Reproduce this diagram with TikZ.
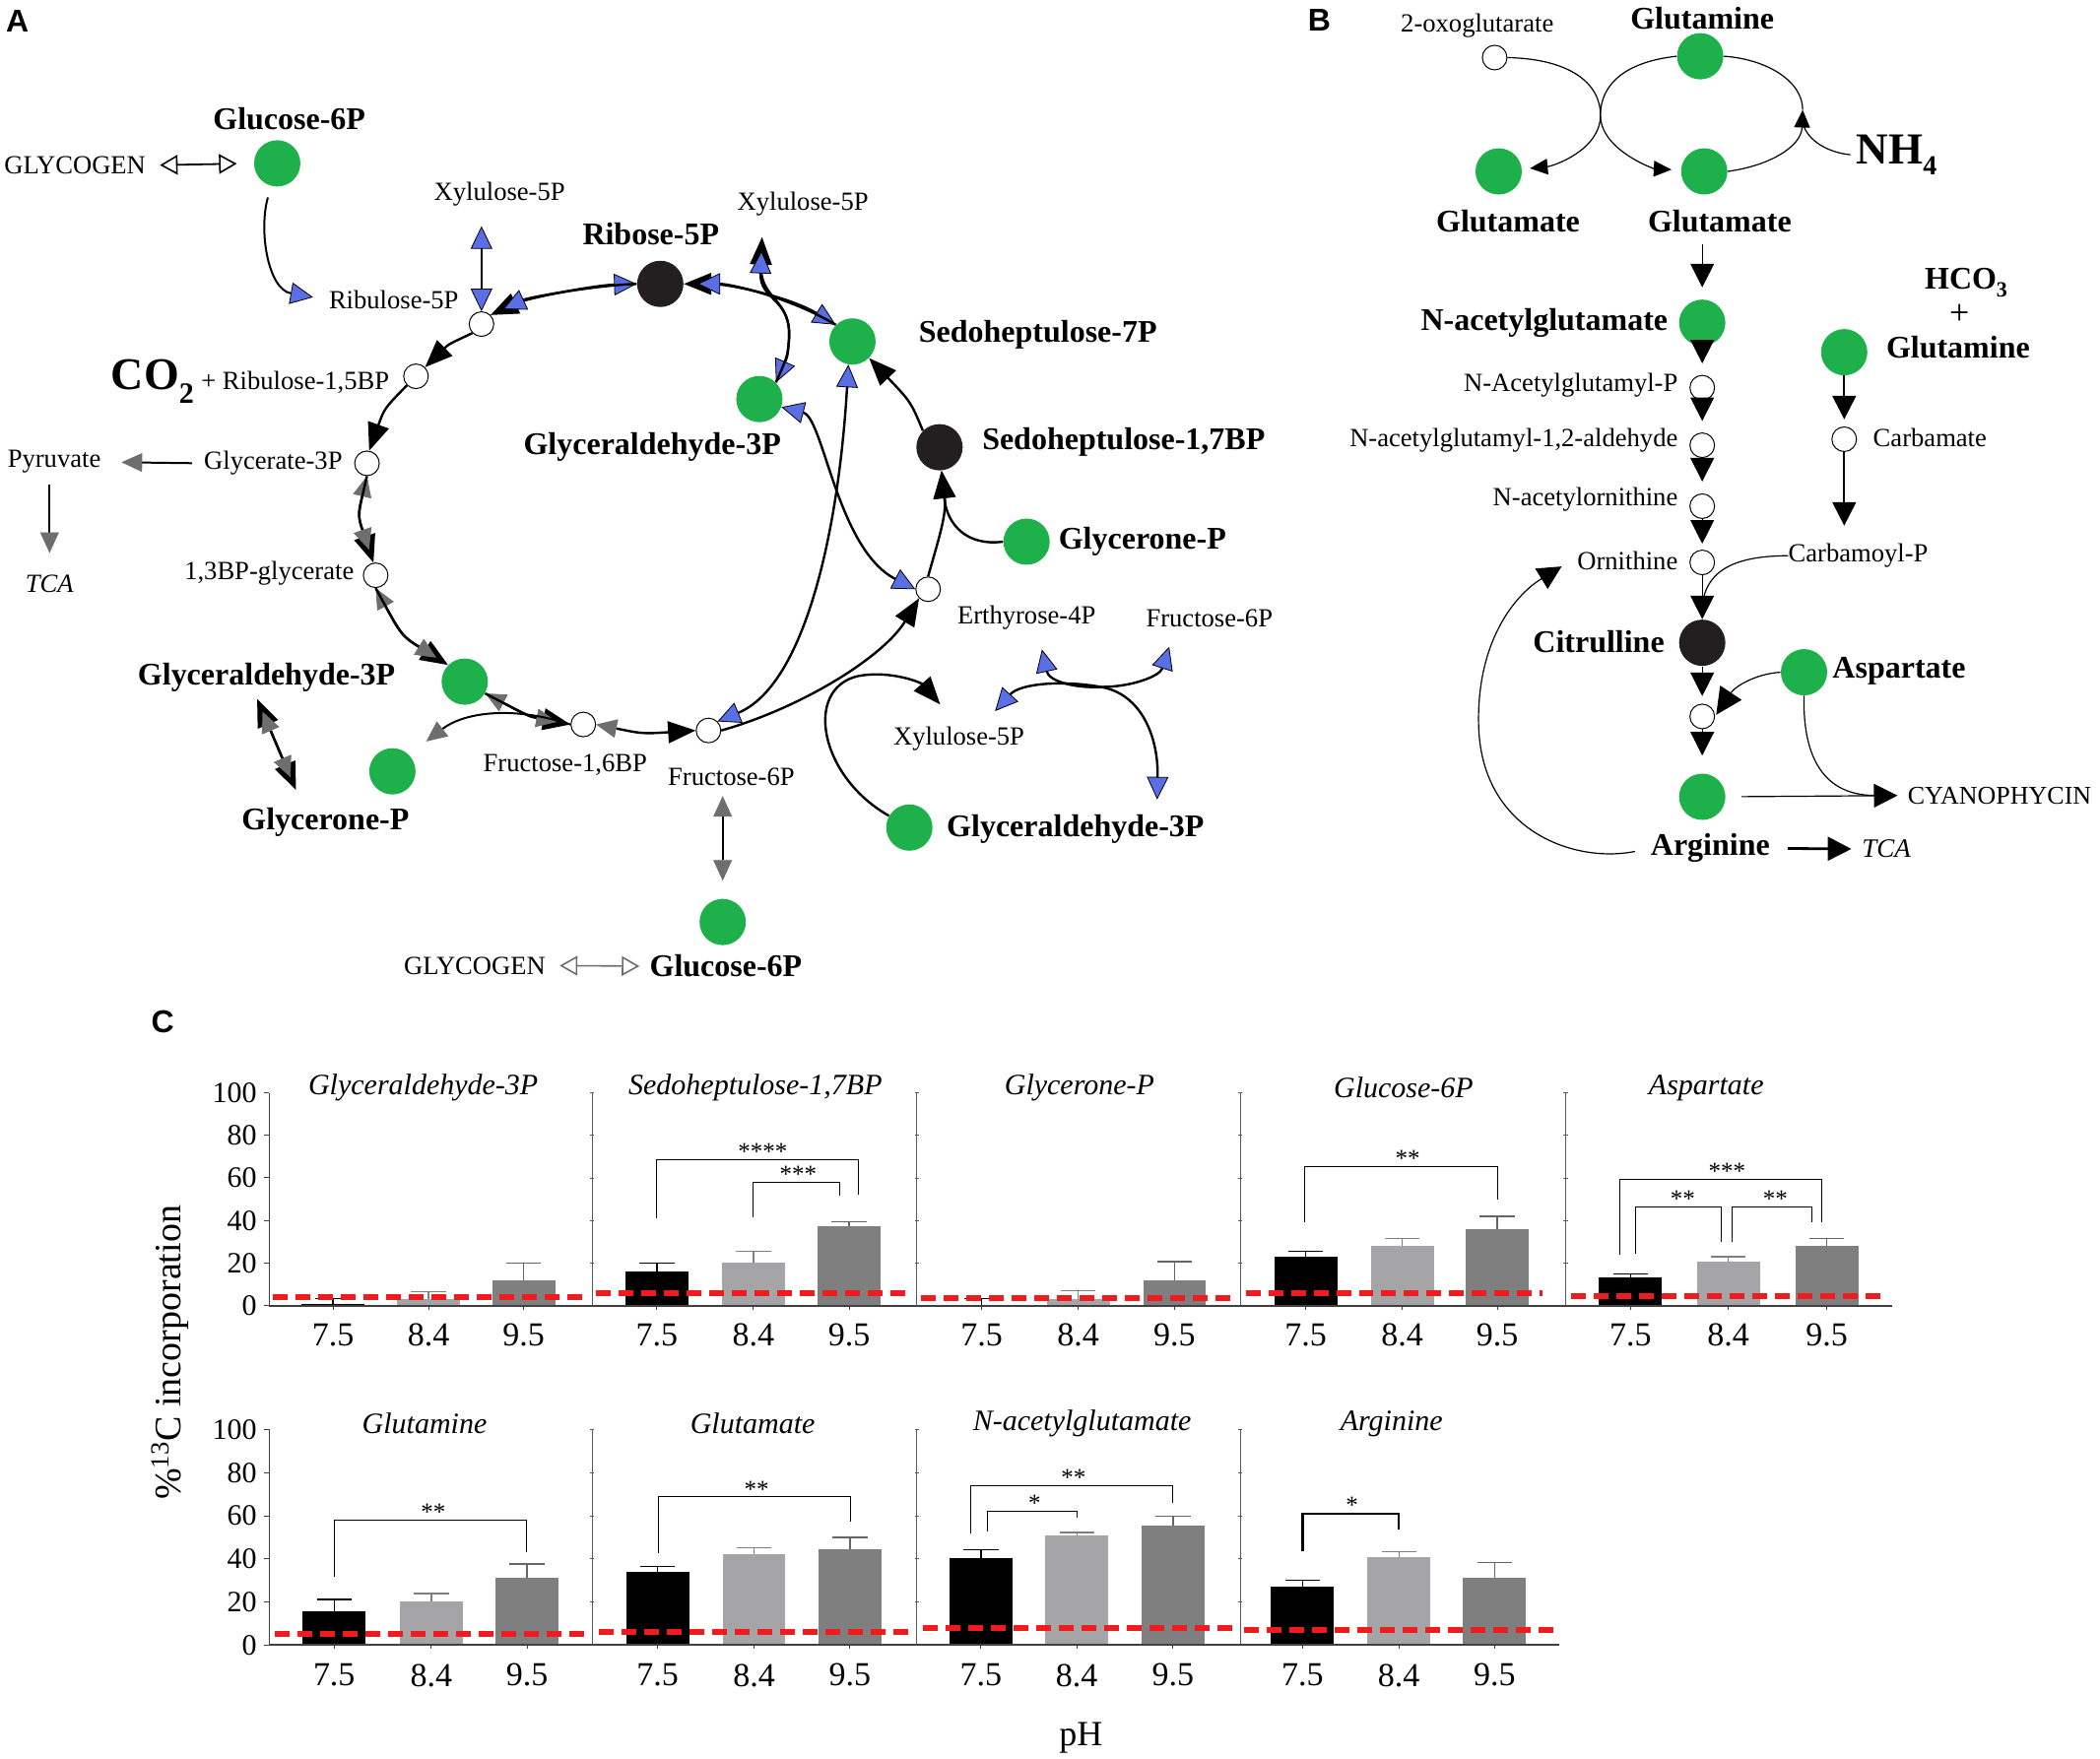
\documentclass[tikz,border=0pt]{standalone}
\usepackage{fontspec}
\setmainfont{Liberation Serif}
\setsansfont{Liberation Sans}
\usetikzlibrary{arrows.meta}
\definecolor{fgreen}{HTML}{1DB04B}
\definecolor{fblk}{HTML}{231F20}
\definecolor{tipblue}{HTML}{5A6FE6}
\definecolor{tipgray}{HTML}{6E6E6E}
\definecolor{barlt}{HTML}{A5A5A8}
\definecolor{bardk}{HTML}{7F7F7F}
\definecolor{fred}{HTML}{EE1C1C}
\newcommand\fsz[1]{\fontsize{#1}{#1}\selectfont}
\newcommand\yv[1]{\yb-\ys*(#1)}
\newcommand\cbar[5]{%
  \fill[#4] ({#1-23.5},\yb) rectangle ({#1+23.5},{\yv{#2}});
  \draw[#5,line width=0.7pt] (#1,{\yv{#2}}) -- (#1,{\yv{#3}}) ({#1-13},{\yv{#3}}) -- ({#1+13},{\yv{#3}});
}
\newcommand\brk[9]{%
  \draw[line width=#8] (#1,{\yv{#4}}) -- (#1,{\yv{#3}}) -- (#2,{\yv{#3}}) -- (#2,{\yv{#5}});
  \node[font=\fsz{12.5},inner sep=0] (#9) at (#7,{\yv{#3}-6}) {#6};
}
\newcommand\redline[3]{%
  \draw[fred,line width=3pt,dash pattern=on 7.5pt off 4pt] (#1,{\yv{#3}}) -- (#2,{\yv{#3}});
}
\tikzset{
  KT/.tip={Triangle[length=14pt,width=11pt]},
  BT/.tip={Triangle[length=11.5pt,width=11pt,fill=tipblue,line width=0.4pt]},
  GT/.tip={Triangle[length=10.5pt,width=9.5pt,color=tipgray,line width=0.4pt]},
  OT/.tip={Triangle[open,length=9pt,width=10pt,line width=0.8pt]},
  KTs/.tip={Triangle[length=9pt,width=8pt]},
  KTb/.tip={Triangle[length=12pt,width=12pt]},
  KTc/.tip={Triangle[length=13.5pt,width=13pt]},
  gc/.style={circle,fill=fgreen,minimum size=23.5pt,inner sep=0pt},
  bc/.style={circle,fill=fblk,minimum size=23.5pt,inner sep=0pt},
  wc/.style={circle,draw=black,fill=white,line width=0.5pt,minimum size=12.5pt,inner sep=0pt},
  lab/.style={inner sep=0pt,font=\fsz{13.3}},
  blab/.style={inner sep=0pt,font=\fsz{16}\bfseries},
  plab/.style={inner sep=0pt,font=\sffamily\bfseries\fsz{16}},
  cyc/.style={line width=1.2pt},
  thinl/.style={line width=0.6pt},
  ttl/.style={inner sep=0pt,font=\fsz{15}\itshape},
  ytl/.style={inner sep=0pt,font=\fsz{15},anchor=east},
  xtl/.style={inner sep=0pt,font=\fsz{17}},
}
\begin{document}
\begin{tikzpicture}[x=0.68pt,y=-0.68pt]
\useasboundingbox (0,0) rectangle (1568,1313.5);
% ================= Panel A =================
\node[plab] (labA) at (13,16) {A};
\node[gc] (g6pt) at (207,122) {};
\node[blab] (g6ptl) at (216,88.5) {Glucose-6P};
\node[lab] (glyc1) at (56,123.5) {GLYCOGEN};
\node[lab] (ru5pl) at (294,224) {Ribulose-5P};
\node[lab] (xu5pl) at (373,145) {Xylulose-5P};
\node[wc] (ru5p) at (359.5,242) {};
\node[bc] (rib) at (493,212) {};
\node[blab] (ribl) at (486,175) {Ribose-5P};
\node[inner sep=0pt,font=\bfseries\fsz{23},anchor=base west] (co2) at (82.7,290.7) {CO\raisebox{-7pt}{\fsz{15}2}};
\node[lab,anchor=base west] (rubpl) at (150,290.7) {+ Ribulose-1,5BP};
\node[wc] (rubp) at (310.6,281) {};
\node[lab] (gly3pl) at (204,346) {Glycerate-3P};
\node[wc] (gly3p) at (274,346) {};
\node[lab] (pyr) at (40.5,345) {Pyruvate};
\node[lab,font=\fsz{13.3}\itshape] (tcaa) at (37,436) {TCA};
\node[lab] (bpgl) at (201,428) {1,3BP-glycerate};
\node[wc] (bpg) at (280.5,429.6) {};
\node[gc] (gapc) at (347,509) {};
\node[blab] (gapll) at (199,506) {Glyceraldehyde-3P};
\node[gc] (dhapl) at (293,576) {};
\node[blab] (dhapll) at (243,614) {Glycerone-P};
\node[wc] (fbp) at (435.5,541) {};
\node[lab] (fbpl) at (422,571.5) {Fructose-1,6BP};
\node[wc] (f6p) at (529,545.5) {};
\node[lab] (f6pl) at (546,580.5) {Fructose-6P};
\node[gc] (g6pb) at (539.6,688.5) {};
\node[blab] (g6pbl) at (542,721.5) {Glucose-6P};
\node[lab] (glyc2) at (354.5,721) {GLYCOGEN};
\node[gc] (s7p) at (636.5,255) {};
\node[blab] (s7pl) at (775,250) {Sedoheptulose-7P};
\node[lab] (xu5pt) at (599.5,152.5) {Xylulose-5P};
\node[gc] (gapt) at (567,298) {};
\node[blab] (gaptl) at (487,334) {Glyceraldehyde-3P};
\node[bc] (s17) at (701.5,334) {};
\node[blab] (s17l) at (839,330) {Sedoheptulose-1,7BP};
\node[gc] (dhapr) at (766.5,404.5) {};
\node[blab] (dhaprl) at (853,404.5) {Glycerone-P};
\node[wc] (e4pc) at (693,440) {};
\node[lab] (e4pl) at (766.5,461) {Erthyrose-4P};
\node[lab] (f6pr) at (903,462) {Fructose-6P};
\node[lab] (xu5pb) at (716,551.5) {Xylulose-5P};
\node[gc] (gapb) at (679,618) {};
\node[blab] (gapbl) at (803,619) {Glyceraldehyde-3P};
\coordinate (xu5tip) at (569,177);
\coordinate (xu5btip) at (702,526);
\coordinate (xj) at (822,513);
\coordinate (e4tip) at (778,485);
\coordinate (f6tip) at (873,483);
\coordinate (xbtip) at (743,531);
\coordinate (gbtip) at (864,597);
\coordinate (dla) at (192,522);
\coordinate (dlb) at (221,590);
% A connectors
\draw[line width=0.9pt,{OT}-{OT},shorten <=7pt,shorten >=8.6pt] (glyc1.east) -- (g6pt.west);
\draw[line width=1pt,-{BT},shorten <=6pt,shorten >=8pt] (g6pt.255) .. controls (193,172) and (200,216) .. (ru5pl.west);
\draw[line width=1pt,{BT}-{BT},shorten >=10pt] (ru5p.north) -- (ru5p.north |- xu5pl.south);
\draw[cyc,{BT}-{KT}] (rib.west) .. controls (445,213) and (395,222) .. (ru5p.north east);
\draw[cyc,-{BT},shorten >=7pt] (rib.west) .. controls (445,213) and (395,222) .. (ru5p.north east);
\draw[cyc,-{KT}] (ru5p.south west) .. controls (335,257) .. (rubp.north east);
\draw[cyc,-{KT}] (rubp.south west) .. controls (287,305) .. (gly3p.80);
\draw[cyc,{GT}-{KT}] (gly3p.south) .. controls (267,385) .. (bpg.100);
\draw[cyc,-{GT},shorten >=7pt] (gly3p.south) .. controls (267,385) .. (bpg.100);
\draw[cyc,{GT}-{KT}] (bpg.south) .. controls (300,475) .. (gapc.north west);
\draw[cyc,-{GT},shorten >=7pt] (bpg.south) .. controls (300,475) .. (gapc.north west);
\draw[cyc,{GT}-{KT}] (gapc.-30) .. controls (395,535) .. (fbp.west);
\draw[cyc,-{GT},shorten >=7pt] (gapc.-30) .. controls (395,535) .. (fbp.west);
\draw[cyc,{GT}-{KT}] (fbp.east) .. controls (480,548) .. (f6p.west);
\draw[line width=1pt,-{GT},shorten >=11pt] (fbp.west) .. controls (380,526) and (345,533) .. (dhapl.north east);
\draw[cyc,-{KT}] (f6p.east) .. controls (600,528) and (660,490) .. (e4pc.south west);
\draw[cyc,-{KT}] (e4pc.north) .. controls (700,405) and (707,385) .. (s17.-85);
\draw[cyc,-{KT}] (dhapr.west) .. controls (722,408) and (707,392) .. (s17.-85);
\draw[cyc,-{KT}] (s17.north west) .. controls (680,300) .. (s7p.south east);
\draw[cyc,{BT}-{KT}] (s7p.north west) .. controls (590,222) and (545,212) .. (rib.east);
\draw[cyc,-{BT},shorten >=7pt] (s7p.north west) .. controls (590,222) and (545,212) .. (rib.east);
\draw[cyc,{BT}-{BT}] (f6p.north east) .. controls (600,512) and (626,400) .. (s7p.-100);
\draw[cyc,{BT}-{BT}] (gapt.-20) .. controls (615,312) and (625,410) .. (e4pc.west);
\draw[cyc,{KT}-{BT}] (xu5tip) .. controls (567,225) and (592,222) .. (589,255) .. controls (588,266) .. (gapt.north east);
\draw[cyc,{BT}-,shorten <=7pt] (xu5tip) .. controls (567,225) and (592,222) .. (589,255) .. controls (588,266) .. (gapt.north east);
\draw[cyc,-{KT}] (gapb.150) .. controls (612,580) and (600,515) .. (640,505) .. controls (665,500) and (688,510) .. (xu5btip);
\draw[cyc,{BT}-{BT}] (e4tip) .. controls (783,508) and (800,514) .. (xj) .. controls (845,513) and (866,505) .. (f6tip);
\draw[cyc,{BT}-{BT}] (xbtip) .. controls (762,510) and (795,508) .. (xj) .. controls (852,518) and (865,550) .. (gbtip);
\draw[cyc,{KT}-{KT}] (dla) -- (dlb);
\draw[cyc,{GT}-{GT},shorten <=7pt,shorten >=7pt] (dla) -- (dlb);
\draw[line width=1pt,-{GT},shorten <=6pt,shorten >=10.3pt] (gly3pl.west) -- (pyr.east);
\draw[line width=1pt,-{GT},shorten <=5.5pt,shorten >=11pt] (pyr.south -| tcaa.north) -- (tcaa.north);
\draw[line width=1pt,{GT}-{GT},shorten <=4.8pt,shorten >=9pt] (f6pl.south -| g6pb.north) -- (g6pb.north);
\draw[tipgray,line width=0.8pt,{OT}-{OT},shorten <=7pt,shorten >=5pt] (glyc2.east) -- (g6pbl.west);
% ================= Panel B =================
\node[plab] (labB) at (985,15) {B};
\node[lab] (oxol) at (1103,19) {2-oxoglutarate};
\node[wc] (oxo) at (1116,43) {};
\node[blab] (glntl) at (1271,13.5) {Glutamine};
\node[gc] (glnt) at (1269.5,42) {};
\node[gc] (glul) at (1119,128) {};
\node[gc] (glur) at (1272.5,128) {};
\node[blab] (glull) at (1126,165) {Glutamate};
\node[blab] (glurl) at (1284,165) {Glutamate};
\node[inner sep=0pt,font=\bfseries\fsz{22.5},anchor=west] (nh4) at (1386,116) {NH\raisebox{-5.5pt}{\fsz{14}4}};
\node[gc] (nag) at (1271,241) {};
\node[blab,anchor=east] (nagl) at (1245.5,241) {N-acetylglutamate};
\node[wc] (nagp) at (1271,289.5) {};
\node[lab,anchor=east] (nagpl) at (1253,288) {N-Acetylglutamyl-P};
\node[wc] (ald) at (1271,332.5) {};
\node[lab,anchor=east] (aldl) at (1253,329) {N-acetylglutamyl-1,2-aldehyde};
\node[wc] (nao) at (1271,378) {};
\node[lab,anchor=east] (naol) at (1253,373) {N-acetylornithine};
\node[wc] (orn) at (1271,420) {};
\node[lab,anchor=east] (ornl) at (1253,419) {Ornithine};
\node[bc] (cit) at (1271,480) {};
\node[blab,anchor=east] (citl) at (1243,479) {Citrulline};
\node[wc] (wcx) at (1271,535) {};
\node[gc] (arg) at (1271,595) {};
\node[blab] (argl) at (1277,633.5) {Arginine};
\node[gc] (asp) at (1347,502) {};
\node[blab,anchor=west] (aspl) at (1368,501) {Aspartate};
\node[gc] (gln2) at (1377,263) {};
\node[blab] (hco3) at (1468,211) {HCO\raisebox{-4pt}{\fsz{11}3}};
\node[inner sep=0pt,font=\fsz{18}] (plus) at (1463,235) {+};
\node[blab] (gln2l) at (1462,259) {Glutamine};
\node[wc] (carb) at (1377,328) {};
\node[lab] (carbl) at (1441,327) {Carbamate};
\node[lab] (carbpl) at (1387.5,415) {Carbamoyl-P};
\node[lab,font=\fsz{13}] (cyano) at (1493,594) {CYANOPHYCIN};
\node[lab,font=\fsz{13.5}\itshape] (tcab) at (1408.5,634) {TCA};
\coordinate (nhj) at (1346,82);
\coordinate (cpj) at (1271,455);
\coordinate (cyj) at (1400,594);
\coordinate (orntip) at (1166,423);
% B connectors
\draw[thinl,-{KTs},shorten >=4pt] (oxo.east) .. controls (1172,44) and (1195,62) .. (1195,86) .. controls (1195,112) and (1160,124) .. (glul);
\draw[thinl,-{KTs},shorten >=4.7pt] (glnt.west) .. controls (1215,46) and (1195,62) .. (1195,86) .. controls (1195,112) and (1235,126) .. (glur);
\draw[thinl,-{KTs}] (glur.east) .. controls (1320,124) and (1345,110) .. (nhj);
\draw[thinl] (nhj) .. controls (1346,60) and (1318,44) .. (glnt.east);
\draw[thinl,shorten <=3pt] (nh4.west) .. controls (1366,114) and (1350,106) .. (1346,92);
\draw[thinl,-{KTb},shorten <=6pt,shorten >=6pt] (glurl.south -| nag) -- (nag);
\draw[thinl,-{KTb},shorten >=5.8pt] (nag.south) -- (nagp);
\draw[thinl,-{KTb},shorten >=5.8pt] (nagp.south) -- (ald);
\draw[thinl,-{KTb},shorten >=6pt] (ald.south) -- (nao);
\draw[thinl,-{KTb},shorten >=3pt] (nao.south) -- (orn);
\draw[thinl,-{KTb}] (orn.south) -- (cit.north);
\draw[thinl,-{KTb},shorten >=3.8pt] (cit.south) -- (wcx);
\draw[thinl,-{KTb},shorten >=9pt] (wcx.south) -- (arg);
\draw[thinl] (carbpl.west) .. controls (1292,415) and (1272,428) .. (cpj);
\draw[thinl,-{KTc},shorten >=1pt] (asp.west) .. controls (1312,503) and (1296,512) .. (wcx.east);
\draw[thinl] (asp.south) .. controls (1346,560) and (1358,594) .. (cyj);
\draw[thinl,-{KTb},shorten <=8pt,shorten >=5pt] (arg.east) -- (cyano.west);
\draw[line width=1.4pt,-{KTb},shorten <=9pt,shorten >=5.2pt] (argl.east) -- (tcab.west);
\draw[thinl,-{KTb},shorten <=8pt] (argl.west) .. controls (1175,645) and (1105,620) .. (1104,540) .. controls (1103,480) and (1130,445) .. (orntip);
\draw[line width=1pt,-{KTb},shorten >=3.6pt] (gln2.south) -- (carb);
\draw[line width=1pt,-{KTb},shorten >=9pt] (carb.south) -- (carb.south |- carbpl.north);
% ================= Panel C =================
\node[plab] (labC) at (121.5,763) {C};
\node[rotate=90,inner sep=0pt,font=\fsz{19}] (ylab) at (127,1010) {\%\textsuperscript{13}C incorporation};
\node[inner sep=0pt,font=\fsz{18}] (phl) at (807,1298) {pH};
% ---- top row
\def\yb{975}\def\ys{1.59}
\cbar{248.6}{1}{3.3}{black}{black}
\cbar{320}{3}{6.7}{barlt}{bardk}
\cbar{391}{12}{20}{bardk}{bardk!80!black}
\cbar{490.5}{16}{20}{black}{black}
\cbar{562.5}{20}{25.5}{barlt}{bardk}
\cbar{634}{37.5}{39.5}{bardk}{bardk!80!black}
\cbar{733}{0.5}{3.3}{black}{black}
\cbar{805}{3}{7}{barlt}{bardk}
\cbar{877}{12}{20.6}{bardk}{bardk!80!black}
\cbar{975}{23}{25.4}{black}{black}
\cbar{1047}{28}{31.5}{barlt}{bardk}
\cbar{1118}{36}{42}{bardk}{bardk!80!black}
\cbar{1217.5}{13.4}{15}{black}{black}
\cbar{1290.5}{20.8}{23}{barlt}{bardk}
\cbar{1364}{28}{31.5}{bardk}{bardk!80!black}
\draw[black!75,line width=0.9pt] (201,\yb) -- (1413,\yb);
\draw[black!75,line width=0.5pt] (201,\yb) -- (201,{\yv{100}});
\foreach \v in {0,20,...,100} {
  \draw[black!75,line width=0.5pt] (197,{\yv{\v}}) -- (201,{\yv{\v}});
  \node[ytl] (yta\v) at (192,{\yv{\v}}) {\v};
}
\foreach \s in {442,684.5,926,1169} {
  \draw[black!65,line width=0.45pt] (\s,\yb) -- (\s,{\yv{100}});
  \foreach \v in {20,40,...,100} \draw[black!65,line width=0.45pt] ({\s-1.5},{\yv{\v}}) -- ({\s+1.5},{\yv{\v}});
}
\foreach \x/\t [count=\i] in {248.6/7.5,320/8.4,391/9.5,490.5/7.5,562.5/8.4,634/9.5,733/7.5,805/8.4,877/9.5,975/7.5,1047/8.4,1118/9.5,1217.5/7.5,1290.5/8.4,1364/9.5} {
  \draw[black!75,line width=0.5pt] (\x,\yb) -- (\x,{\yb+3});
  \node[xtl] (xta\i) at (\x,997) {\t};
}
\redline{204}{437}{4.2}
\redline{445}{680}{6}
\redline{688}{922}{3.4}
\redline{930}{1152}{6}
\redline{1173}{1405}{4.6}
\node[ttl] (t1) at (316,812.5) {Glyceraldehyde-3P};
\node[ttl] (t2) at (564,812.5) {Sedoheptulose-1,7BP};
\node[ttl] (t3) at (806,812.5) {Glycerone-P};
\node[ttl] (t4) at (1048,812.5) {Glucose-6P};
\node[ttl] (t5) at (1274,812.5) {Aspartate};
\brk{490}{641}{68.5}{41}{52}{****}{569.5}{0.5pt}{s1}
\brk{562}{627}{58}{41.5}{51.5}{***}{596}{0.5pt}{s2}
\brk{974}{1118}{65.4}{39}{50}{**}{1051}{0.5pt}{s3}
\brk{1209.5}{1360.5}{59.4}{24}{39}{***}{1289.5}{0.5pt}{s4}
\brk{1221}{1285}{46.5}{24.6}{29.7}{**}{1256.5}{0.5pt}{s5}
\brk{1293}{1353}{46.5}{29.7}{39}{**}{1325.5}{0.5pt}{s6}
% ---- bottom row
\def\yb{1228.5}\def\ys{1.61}
\cbar{249.5}{15.5}{21.2}{black}{black}
\cbar{322}{20.2}{23.9}{barlt}{bardk}
\cbar{393.5}{31.3}{37.7}{bardk}{bardk!80!black}
\cbar{491}{34.1}{36.4}{black}{black}
\cbar{563}{42.2}{45.3}{barlt}{bardk}
\cbar{634.6}{44.7}{50}{bardk}{bardk!80!black}
\cbar{732.4}{40.3}{44.2}{black}{black}
\cbar{804}{50.9}{52.2}{barlt}{bardk}
\cbar{875.8}{55.5}{59.7}{bardk}{bardk!80!black}
\cbar{972.5}{27}{30}{black}{black}
\cbar{1044.5}{41}{43.4}{barlt}{bardk}
\cbar{1116}{31.2}{38.3}{bardk}{bardk!80!black}
\draw[black!75,line width=0.9pt] (201,\yb) -- (1164,\yb);
\draw[black!75,line width=0.5pt] (201,\yb) -- (201,{\yv{100}});
\foreach \v in {0,20,...,100} {
  \draw[black!75,line width=0.5pt] (197,{\yv{\v}}) -- (201,{\yv{\v}});
  \node[ytl] (ytb\v) at (192,{\yv{\v}}) {\v};
}
\foreach \s in {442,684.5,926} {
  \draw[black!65,line width=0.45pt] (\s,\yb) -- (\s,{\yv{100}});
  \foreach \v in {20,40,...,100} \draw[black!65,line width=0.45pt] ({\s-1.5},{\yv{\v}}) -- ({\s+1.5},{\yv{\v}});
}
\foreach \x/\t [count=\i] in {249.5/7.5,322/8.4,393.5/9.5,491/7.5,563/8.4,634.6/9.5,732.4/7.5,804/8.4,875.8/9.5,972.5/7.5,1044.5/8.4,1116/9.5} {
  \draw[black!75,line width=0.5pt] (\x,\yb) -- (\x,{\yb+3});
  \node[xtl] (xtb\i) at (\x,1251) {\t};
}
\redline{205}{437}{5.4}
\redline{447}{678}{5.9}
\redline{689}{920}{8}
\redline{929}{1160}{7}
\node[ttl] (b1) at (317,1063) {Glutamine};
\node[ttl] (b2) at (562,1063) {Glutamate};
\node[ttl] (b3) at (808,1063) {N-acetylglutamate};
\node[ttl] (b4) at (1039,1063) {Arginine};
\brk{250}{393}{57.8}{31.8}{43}{**}{323.5}{0.5pt}{s7}
\brk{492}{635}{68.7}{42.6}{57.4}{**}{565}{0.5pt}{s8}
\brk{725}{875.7}{74}{52}{66}{**}{801.5}{0.5pt}{s9}
\brk{737.5}{804}{62}{52.7}{59.2}{*}{772.5}{0.5pt}{s10}
\brk{972.5}{1044.5}{61}{43.7}{53.5}{*}{1009.5}{1.2pt}{s11}
\end{tikzpicture}
\end{document}
